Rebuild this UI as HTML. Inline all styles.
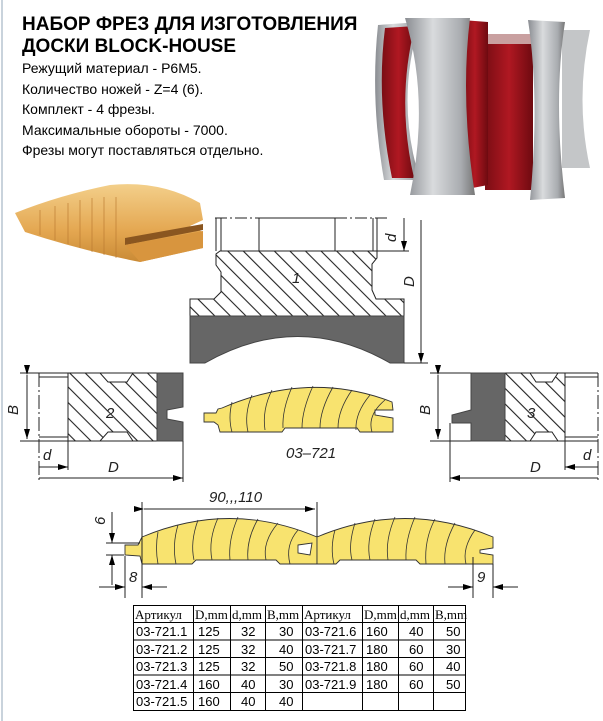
<!DOCTYPE html>
<html><head><meta charset="utf-8"><style>
html,body{margin:0;padding:0;background:#fff}
svg{display:block}
.t{font-family:"Liberation Sans",sans-serif;fill:#000}
.i{font-family:"Liberation Sans",sans-serif;font-style:italic;font-size:15px;fill:#222}
.tb{font-family:"Liberation Serif",serif;font-size:13px;fill:#000}
</style></head><body>
<svg width="603" height="721" viewBox="0 0 603 721" xmlns="http://www.w3.org/2000/svg">
<defs>
<pattern id="h" patternUnits="userSpaceOnUse" width="11" height="11" patternTransform="rotate(-45)">
<rect width="11" height="11" fill="#fff"/><line x1="5.5" y1="0" x2="5.5" y2="11" stroke="#222" stroke-width="1.1"/>
</pattern>
<linearGradient id="sv" x1="0" x2="1"><stop offset="0" stop-color="#8a8d92"/><stop offset=".4" stop-color="#d9dbdd"/><stop offset=".8" stop-color="#a9acb0"/><stop offset="1" stop-color="#777"/></linearGradient>
<linearGradient id="rd" x1="0" x2="1"><stop offset="0" stop-color="#7a0d14"/><stop offset=".5" stop-color="#b01822"/><stop offset="1" stop-color="#6e0a10"/></linearGradient>
<linearGradient id="wd" x1="0" y1="0" x2="0" y2="1"><stop offset="0" stop-color="#f3cf8a"/><stop offset=".6" stop-color="#e4a751"/><stop offset="1" stop-color="#c98a35"/></linearGradient>
<marker id="a" markerWidth="10" markerHeight="6" refX="10" refY="3" orient="auto" markerUnits="userSpaceOnUse"><path d="M0,0 L10,3 L0,6z" fill="#000"/></marker>
</defs>
<line x1="2" y1="0" x2="2" y2="721" stroke="#c9d3dc" stroke-width="2"/>

<text class="t" x="22" y="30" font-size="19" font-weight="bold">НАБОР ФРЕЗ ДЛЯ ИЗГОТОВЛЕНИЯ</text>
<text class="t" x="22" y="52" font-size="19" font-weight="bold">ДОСКИ BLOCK-HOUSE</text>
<g class="t" font-size="14">
<text x="22" y="73">Режущий материал - Р6М5.</text>
<text x="22" y="94">Количество ножей - Z=4 (6).</text>
<text x="22" y="114">Комплект - 4 фрезы.</text>
<text x="22" y="135">Максимальные обороты - 7000.</text>
<text x="22" y="155">Фрезы могут поставляться отдельно.</text>
</g>

<g>
<path d="M562,30 L590,30 Q575,100 590,168 L562,168 Z" fill="#c4c6c8"/>
<rect x="485" y="34" width="48" height="156" fill="url(#rd)"/>
<rect x="485" y="34" width="48" height="10" fill="#c9a0a0"/>
<path d="M378,25 L420,22 Q395,100 420,180 L384,180 Q370,100 378,25Z" fill="url(#sv)"/>
<path d="M385,28 L415,26 Q396,100 414,178 L392,178 Q376,100 385,28Z" fill="url(#rd)"/>
<path d="M462,20 L488,22 L488,185 L462,190 Z" fill="url(#rd)"/>
<path d="M405,18 L470,18 Q460,100 475,195 L410,195 Q430,100 405,18Z" fill="url(#sv)"/>
<path d="M528,20 L565,22 Q553,100 565,198 L530,200 Q540,100 528,20Z" fill="url(#sv)"/>
</g>

<path d="M15,213 Q60,195 110,185 Q160,180 200,203 L203,220 L190,226 L203,232 L203,248 L140,262 Q80,250 25,232 Z" fill="url(#wd)"/>
<path d="M125,238 L203,224 L203,230 L125,245Z" fill="#8a5620"/>
<path d="M125,245 L203,231 L203,248 L140,262Z" fill="#d8953e"/>
<g stroke="#b9782f" stroke-width="0.8" opacity=".8">
<line x1="40" y1="210" x2="40" y2="235"/><line x1="55" y1="206" x2="55" y2="240"/><line x1="68" y1="203" x2="68" y2="244"/><line x1="80" y1="200" x2="80" y2="248"/><line x1="92" y1="198" x2="92" y2="252"/><line x1="104" y1="197" x2="104" y2="255"/><line x1="116" y1="197" x2="116" y2="258"/>
</g>

<g stroke="#222" stroke-width="1" fill="none">
<line x1="215" y1="218" x2="390" y2="218" stroke-dasharray="12,3,2,3"/>
<line x1="216" y1="218" x2="216" y2="251"/><line x1="221" y1="218" x2="221" y2="251"/>
<line x1="373" y1="218" x2="373" y2="251"/><line x1="377" y1="218" x2="377" y2="251"/>
<rect x="259" y="218" width="76" height="33" fill="#fff"/>
<path d="M220,251 L377,251 L377,258 L372,264 L372,290 L376,299 L404,299 L404,316 L190,316 L190,299 L214,299 L221,292 L221,272 L216,265 L216,254 Z" fill="url(#h)"/>
<path d="M190,316 L404,316 L404,363 L390,363 Q298,310 205,363 L190,363 Z" fill="#666" stroke="#444"/>
<line x1="377" y1="251" x2="409" y2="251"/>
<line x1="404" y1="218" x2="404" y2="251" marker-end="url(#a)"/>
<line x1="421" y1="220" x2="421" y2="363" marker-end="url(#a)"/>
<line x1="404" y1="363" x2="428" y2="363"/>
</g>
<text class="i" x="292" y="283">1</text>
<text class="i" transform="translate(396,242) rotate(-90)">d</text>
<text class="i" transform="translate(414,287) rotate(-90)">D</text>

<g stroke="#222" stroke-width="1" fill="none">
<line x1="20" y1="373" x2="183" y2="373"/><line x1="20" y1="441" x2="183" y2="441"/>
<line x1="39" y1="373" x2="39" y2="480" stroke-dasharray="14,3,2,3"/>
<line x1="39" y1="377" x2="68" y2="377"/><line x1="39" y1="437" x2="68" y2="437"/>
<path d="M68,373 L100,373 L108,382 L127,382 L133,373 L157,373 L157,441 L133,441 L127,432 L108,432 L100,441 L68,441 Z" fill="url(#h)"/>
<path d="M157,373 L183,373 L183,407 L167,410 L167,419 L183,422 L183,441 L157,441 Z" fill="#666" stroke="#444"/>
<line x1="27" y1="375" x2="27" y2="439" marker-start="url(#a)" marker-end="url(#a)"/>
<line x1="68" y1="441" x2="68" y2="470"/>
<line x1="183" y1="441" x2="183" y2="482"/>
<line x1="39" y1="467" x2="68" y2="467" marker-end="url(#a)"/>
<line x1="39" y1="478" x2="183" y2="478" marker-end="url(#a)"/>
</g>
<text class="i" x="106" y="418">2</text>
<text class="i" transform="translate(18,415) rotate(-90)">B</text>
<text class="i" x="43" y="460">d</text>
<text class="i" x="108" y="472">D</text>

<g stroke="#222" stroke-width="1" fill="none">
<line x1="430" y1="373" x2="598" y2="373"/><line x1="430" y1="441" x2="598" y2="441"/>
<line x1="598" y1="373" x2="598" y2="480" stroke-dasharray="14,3,2,3"/>
<line x1="565" y1="377" x2="598" y2="377"/><line x1="565" y1="437" x2="598" y2="437"/>
<path d="M505,373 L530,373 L536,382 L552,382 L558,373 L565,373 L565,441 L558,441 L552,432 L536,432 L530,441 L505,441 Z" fill="url(#h)"/>
<path d="M471,373 L505,373 L505,441 L471,441 L471,423 L452,423 L452,415 L471,410 Z" fill="#666" stroke="#444"/>
<line x1="438" y1="375" x2="438" y2="439" marker-start="url(#a)" marker-end="url(#a)"/>
<line x1="450" y1="423" x2="450" y2="482"/>
<line x1="565" y1="441" x2="565" y2="470"/>
<line x1="598" y1="467" x2="565" y2="467" marker-end="url(#a)"/>
<line x1="598" y1="478" x2="450" y2="478" marker-end="url(#a)"/>
</g>
<text class="i" x="527" y="418">3</text>
<text class="i" transform="translate(430,415) rotate(-90)">B</text>
<text class="i" x="583" y="460">d</text>
<text class="i" x="530" y="472">D</text>

<g stroke="#333" stroke-width="0.9">
<path d="M204,413 L216,413 L218,409 L222,408 Q310,370 392,402 L393,410 L375,410 L375,415 L393,418 L393,432 L360,432 L357,428 L285,428 L282,432 L220,432 L218,425 L214,422 L204,422 Z" fill="#f8e36f"/>
<g fill="none" stroke-width="0.8">
<path d="M232,402 Q228,418 232,432"/><path d="M252,395 Q244,414 248,432"/><path d="M272,390 Q262,410 265,430"/><path d="M292,387 Q282,410 283,428"/><path d="M313,386 Q302,410 302,428"/><path d="M333,387 Q320,410 320,428"/><path d="M352,390 Q338,410 338,428"/><path d="M370,395 Q355,413 356,430"/><path d="M385,400 Q367,415 372,432"/>
</g></g>
<text class="i" x="286" y="458">03–721</text>

<g stroke="#333" stroke-width="0.9">
<path d="M125,545 L138,545 L142,537 Q230,500 317,537 L317,564 L280,564 L276,560 L196,560 L192,564 L142,564 L140,556 L125,555 Z" fill="#f8e36f"/>
<path d="M317,537 Q405,500 493,537 L493,548 L480,550 L480,553 L493,555 L493,564 L420,564 L416,560 L340,560 L336,564 L317,564 Z" fill="#f8e36f"/>
<path d="M298,545 L312,543 L310,555 L298,553 Z" fill="#fff"/>
<g fill="none" stroke-width="0.8">
<path d="M158,532 Q155,548 158,564"/><path d="M178,525 Q172,545 176,564"/><path d="M198,520 Q190,542 194,560"/><path d="M218,518 Q208,540 212,560"/><path d="M238,517 Q228,540 230,560"/><path d="M258,519 Q246,540 248,560"/><path d="M278,523 Q262,542 266,560"/><path d="M298,530 Q285,545 290,564"/>
<path d="M335,530 Q330,548 334,564"/><path d="M355,523 Q348,545 352,560"/><path d="M375,519 Q366,542 370,560"/><path d="M395,517 Q385,540 388,560"/><path d="M415,517 Q405,540 406,560"/><path d="M435,519 Q424,540 426,564"/><path d="M455,523 Q443,545 445,564"/><path d="M475,530 Q462,548 466,564"/>
</g></g>
<g stroke="#222" stroke-width="1" fill="none">
<line x1="142" y1="502" x2="142" y2="598"/><line x1="317" y1="502" x2="317" y2="537"/>
<line x1="144" y1="509" x2="315" y2="509" marker-start="url(#a)" marker-end="url(#a)"/>
<line x1="106" y1="543" x2="140" y2="543"/><line x1="106" y1="555" x2="124" y2="555"/>
<line x1="112" y1="512" x2="112" y2="543" marker-end="url(#a)"/>
<line x1="112" y1="585" x2="112" y2="555" marker-end="url(#a)"/>
<line x1="125" y1="556" x2="125" y2="598"/>
<line x1="99" y1="587" x2="125" y2="587" marker-end="url(#a)"/>
<line x1="167" y1="587" x2="142" y2="587" marker-end="url(#a)"/>
<line x1="473" y1="557" x2="473" y2="598"/><line x1="493" y1="564" x2="493" y2="598"/>
<line x1="448" y1="587" x2="473" y2="587" marker-end="url(#a)"/>
<line x1="518" y1="587" x2="493" y2="587" marker-end="url(#a)"/>
</g>
<text class="i" x="209" y="502">90,,,110</text>
<text class="i" transform="translate(105,525) rotate(-90)">6</text>
<text class="i" x="129" y="582">8</text>
<text class="i" x="477" y="582">9</text>

<g stroke="#000" stroke-width="1" fill="none">
<rect x="133.5" y="605.5" width="332" height="105"/>
<line x1="133" y1="622.5" x2="466" y2="622.5"/>
<line x1="133" y1="640" x2="466" y2="640"/>
<line x1="133" y1="657.5" x2="466" y2="657.5"/>
<line x1="133" y1="675" x2="466" y2="675"/>
<line x1="133" y1="692.5" x2="466" y2="692.5"/>
<line x1="193.5" y1="605" x2="193.5" y2="711"/><line x1="230.5" y1="605" x2="230.5" y2="711"/><line x1="265.5" y1="605" x2="265.5" y2="711"/><line x1="302.5" y1="605" x2="302.5" y2="711"/><line x1="362.5" y1="605" x2="362.5" y2="711"/><line x1="398.5" y1="605" x2="398.5" y2="711"/><line x1="433.5" y1="605" x2="433.5" y2="711"/>
</g>
<g class="tb">
<text x="135" y="619">Артикул</text><text x="195" y="619">D,mm</text><text x="232" y="619">d,mm</text><text x="267" y="619">B,mm</text>
<text x="304" y="619">Артикул</text><text x="364" y="619">D,mm</text><text x="400" y="619">d,mm</text><text x="435" y="619">B,mm</text>
</g>
<g font-family="Liberation Sans,sans-serif" font-size="13" fill="#000">
<text x="136" y="636">03-721.1</text><text x="198" y="636">125</text><text x="241" y="636">32</text><text x="279" y="636">30</text><text x="305" y="636">03-721.6</text><text x="366" y="636">160</text><text x="409" y="636">40</text><text x="446" y="636">50</text>
<text x="136" y="654">03-721.2</text><text x="198" y="654">125</text><text x="241" y="654">32</text><text x="279" y="654">40</text><text x="305" y="654">03-721.7</text><text x="366" y="654">180</text><text x="409" y="654">60</text><text x="446" y="654">30</text>
<text x="136" y="671">03-721.3</text><text x="198" y="671">125</text><text x="241" y="671">32</text><text x="279" y="671">50</text><text x="305" y="671">03-721.8</text><text x="366" y="671">180</text><text x="409" y="671">60</text><text x="446" y="671">40</text>
<text x="136" y="689">03-721.4</text><text x="198" y="689">160</text><text x="241" y="689">40</text><text x="279" y="689">30</text><text x="305" y="689">03-721.9</text><text x="366" y="689">180</text><text x="409" y="689">60</text><text x="446" y="689">50</text>
<text x="136" y="706">03-721.5</text><text x="198" y="706">160</text><text x="241" y="706">40</text><text x="279" y="706">40</text>
</g>
</svg>
</body></html>
